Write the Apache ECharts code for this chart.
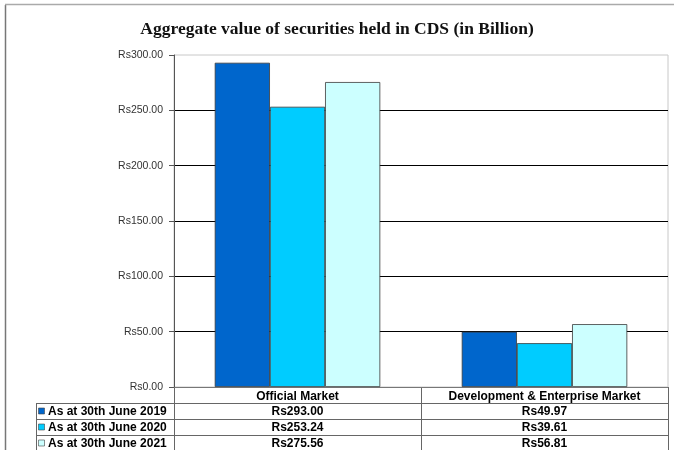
<!DOCTYPE html>
<html><head><meta charset="utf-8">
<script src="https://cdn.jsdelivr.net/npm/echarts@6/dist/echarts.min.js"></script>
<style>html,body{margin:0;padding:0;background:#fff}#c{width:674px;height:450px}</style>
</head><body><div id="c"></div>
<script>
const titleText = 'Aggregate value of securities held in CDS (in Billion)';
const categories = ['Official Market', 'Development & Enterprise Market'];
const seriesNames = ['As at 30th June 2019', 'As at 30th June 2020', 'As at 30th June 2021'];
const values2019 = [293.00, 49.97];
const values2020 = [253.24, 39.61];
const values2021 = [275.56, 56.81];
const yMin = 0, yMax = 300, yStep = 50;
const colors = ['#0066CC', '#00CCFF', '#CCFFFF'];

const allValues = [values2019, values2020, values2021];
const W = 674, H = 450;
const G = {left: 174, top: 55, right: 6, bottom: 63};
const rowH = 16;
const FONT = '"Liberation Sans", Arial, sans-serif';
const fmt = v => 'Rs' + v.toFixed(2);

const chart = echarts.init(document.getElementById('c'), null, {renderer: 'canvas'});

const series = seriesNames.map((n, i) => ({
  name: n, type: 'bar', data: allValues[i],
  barGap: '0%', barCategoryGap: '33%',
  itemStyle: {color: colors[i], borderColor: '#3a3a3a', borderWidth: 0.8},
  emphasis: {disabled: true}
}));

chart.setOption({
  animation: false,
  backgroundColor: '#fff',
  title: {text: titleText, left: 'center', top: 15,
    textStyle: {fontFamily: '"Liberation Serif", "Times New Roman", serif', fontSize: 17.5, fontWeight: 'bold', color: '#111'}},
  grid: {left: G.left, top: G.top, right: G.right, bottom: G.bottom, show: true, borderColor: '#c8c8c8', borderWidth: 1},
  xAxis: {type: 'category', data: categories,
    axisLine: {lineStyle: {color: '#777'}}, axisTick: {show: false},
    axisLabel: {interval: 0, margin: 4, fontFamily: FONT, fontSize: 12, fontWeight: 'bold', color: '#000'}},
  yAxis: {type: 'value', min: yMin, max: yMax, interval: yStep,
    axisLine: {show: true, lineStyle: {color: '#555'}},
    axisTick: {show: true, length: 5, lineStyle: {color: '#555'}},
    axisLabel: {margin: 11, fontFamily: FONT, fontSize: 10.5, color: '#333', formatter: v => fmt(v)},
    splitLine: {show: true, showMaxLine: false, lineStyle: {color: '#000', width: 1}}},
  series: series
});

// data table below the plot
const x0 = G.left, x1 = W - G.right;
const yTop = H - G.bottom;
const xLab = 36;
const c0 = chart.convertToPixel({xAxisIndex: 0}, 0);
const c1 = chart.convertToPixel({xAxisIndex: 0}, 1);
const xMid = (c0 + c1) / 2;
const lineStyle = {stroke: '#666', lineWidth: 1};
const els = [];
const hline = (xa, xb, y, st) => els.push({type: 'line', shape: {x1: xa, y1: y + 0.5, x2: xb, y2: y + 0.5}, style: st || lineStyle, silent: true});
const vline = (x, ya, yb, st) => els.push({type: 'line', shape: {x1: x + 0.5, y1: ya, x2: x + 0.5, y2: yb}, style: st || lineStyle, silent: true});

for (let r = 1; r <= 4; r++) hline(xLab, x1, yTop + r * rowH);
vline(xLab, yTop + rowH, H);
vline(x0, yTop, H);
vline(xMid, yTop, H);
vline(x1, yTop, H);

seriesNames.forEach((n, i) => {
  const yc = yTop + rowH * (i + 1) + rowH / 2 + 0.5;
  els.push({type: 'rect', shape: {x: xLab + 2.5, y: yc - 3.5, width: 6, height: 6},
    style: {fill: colors[i], stroke: '#444', lineWidth: 0.6}, silent: true});
  els.push({type: 'text', x: xLab + 12, y: yc, silent: true,
    style: {text: n, font: 'bold 12px ' + FONT, fill: '#000', textVerticalAlign: 'middle', verticalAlign: 'middle'}});
  categories.forEach((c, j) => {
    const cx = chart.convertToPixel({xAxisIndex: 0}, j);
    els.push({type: 'text', x: cx, y: yc, silent: true,
      style: {text: fmt(allValues[i][j]), font: 'bold 12px ' + FONT, fill: '#000', align: 'center', textAlign: 'center', verticalAlign: 'middle', textVerticalAlign: 'middle'}});
  });
});

// outer frame
vline(5, 5, H, {stroke: '#777', lineWidth: 1.5});
hline(5, W, 4, {stroke: '#aaa', lineWidth: 1.5});

chart.setOption({graphic: {elements: els}});
</script></body></html>
